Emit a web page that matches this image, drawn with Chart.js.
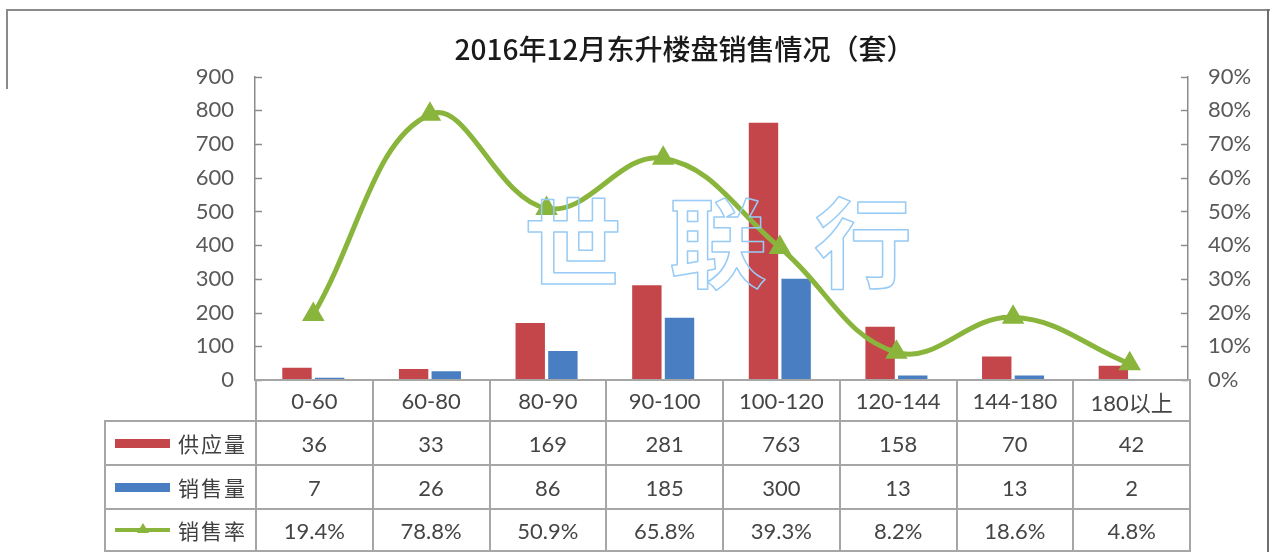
<!DOCTYPE html>
<html>
<head>
<meta charset="utf-8">
<script src="https://cdn.jsdelivr.net/npm/chart.js@4.4.1/dist/chart.umd.min.js"></script>
<style>
  html, body { margin: 0; padding: 0; background: #fff; }
  #wrap { position: relative; width: 1277px; height: 552px; background: #fff; overflow: hidden; }
  #c { position: absolute; left: 0; top: 0; }
  .frame-top { position: absolute; left: 6px; top: 9px; width: 1264px; height: 2px; background: #8a8a8a; }
  .frame-right { position: absolute; left: 1267px; top: 9px; width: 2px; height: 543px; background: #6e6e6e; }
  .frame-left { position: absolute; left: 6px; top: 9px; width: 2px; height: 80px; background: #8a8a8a; }
  #tbl { position: absolute; left: 104px; top: 379px; border-collapse: collapse; table-layout: fixed;
         font-family: Lato, "Noto Sans CJK SC", sans-serif; font-size: 22px; color: #454545; }
  #tbl td { border: 2px solid #a6a6a6; text-align: center; padding: 0; white-space: nowrap; }
  #tbl td.blank { border-top: none; border-left: none; }
  #tbl td.lab { text-align: left; }
  .lab-in { display: flex; align-items: center; }
  .sw { display: inline-block; width: 55px; height: 9px; margin-left: 9px; margin-right: 8px; position: relative; }
  .sw.line { height: 4px; }
  .sw.line::after { content: ""; position: absolute; left: 22px; top: -5px; width: 0; height: 0;
                    border-left: 6px solid transparent; border-right: 6px solid transparent; border-bottom: 10px solid #8ab53c; }
  .lab-txt { font-family: "Noto Sans CJK SC", sans-serif; font-size: 21px; letter-spacing: 2px; color: #404040; }
</style>
</head>
<body>
<div id="wrap">
  <div class="frame-top"></div>
  <div class="frame-left"></div>
  <div class="frame-right"></div>
  <canvas id="c" width="1277" height="552"></canvas>
  <table id="tbl"></table>
</div>
<script>
// chart data
const categories = ['0-60', '60-80', '80-90', '90-100', '100-120', '120-144', '144-180', '180以上'];
const supply = [36, 33, 169, 281, 763, 158, 70, 42];      // 供应量
const sold = [7, 26, 86, 185, 300, 13, 13, 2];            // 销售量
const rate = [19.4, 78.8, 50.9, 65.8, 39.3, 8.2, 18.6, 4.8]; // 销售率 (%)
const seriesNames = ['供应量', '销售量', '销售率'];
const titleText = '2016年12月东升楼盘销售情况（套）';
const watermark = ['世', '联', '行'];

const RED = '#c4464a';
const BLUE = '#4a7ec2';
const GREEN = '#8ab53c';
const AXIS = '#8c8c8c';
const TICKTXT = '#595959';

// build the data table under the plot
const tbl = document.getElementById('tbl');
let html = '<colgroup><col style="width:151px">';
categories.forEach(() => { html += '<col style="width:116.75px">'; });
html += '</colgroup>';
html += '<tr style="height:41px"><td class="blank"></td>' + categories.map(c => '<td>' + c + '</td>').join('') + '</tr>';
const rows = [
  { name: seriesNames[0], vals: supply.map(String), sw: '<span class="sw" style="background:' + RED + '"></span>', h: 44 },
  { name: seriesNames[1], vals: sold.map(String), sw: '<span class="sw" style="background:' + BLUE + '"></span>', h: 44 },
  { name: seriesNames[2], vals: rate.map(v => v.toFixed(1) + '%'), sw: '<span class="sw line" style="background:' + GREEN + '"></span>', h: 42 }
];
rows.forEach(r => {
  html += '<tr style="height:' + r.h + 'px"><td class="lab"><div class="lab-in">' + r.sw + '<span class="lab-txt">' + r.name + '</span></div></td>';
  html += r.vals.map(v => '<td>' + v + '</td>').join('') + '</tr>';
});
tbl.innerHTML = html;

// tick marks pointing into the plot, like the original
const inwardTicks = {
  id: 'inwardTicks',
  afterDraw(chart) {
    const ctx = chart.ctx;
    ctx.save();
    ctx.strokeStyle = AXIS;
    ctx.lineWidth = 1.5;
    ['y', 'y1'].forEach(id => {
      const s = chart.scales[id];
      s.ticks.forEach((t, i) => {
        const y = Math.round(s.getPixelForTick(i)) + 0.5;
        const x0 = id === 'y' ? s.right : s.left;
        const x1 = id === 'y' ? x0 + 7 : x0 - 7;
        ctx.beginPath();
        ctx.moveTo(x0, y);
        ctx.lineTo(x1, y);
        ctx.stroke();
      });
    });
    ctx.restore();
  }
};

// outlined watermark text
const watermarkPlugin = {
  id: 'watermark',
  afterDraw(chart) {
    const ctx = chart.ctx;
    ctx.save();
    ctx.font = 'bold 98px "Noto Sans CJK SC"';
    ctx.textAlign = 'center';
    ctx.textBaseline = 'middle';
    ctx.strokeStyle = '#98cbf5';
    ctx.lineWidth = 1.5;
    ctx.lineJoin = 'round';
    watermark.forEach((ch, i) => {
      ctx.strokeText(ch, 573 + i * 145, 243);
    });
    ctx.restore();
  }
};

const ctx = document.getElementById('c').getContext('2d');
const myChart = new Chart(ctx, {
  type: 'bar',
  data: {
    labels: categories,
    datasets: [
      {
        type: 'line',
        label: seriesNames[2],
        data: rate,
        yAxisID: 'y1',
        borderColor: GREEN,
        backgroundColor: GREEN,
        borderWidth: 5,
        tension: 0.4,
        pointStyle: 'triangle',
        pointRadius: 13,
        pointBorderWidth: 0,
        pointBackgroundColor: GREEN,
        fill: false,
        clip: false,
        order: 0
      },
      {
        label: seriesNames[0],
        data: supply,
        yAxisID: 'y',
        backgroundColor: RED,
        categoryPercentage: 0.56,
        barPercentage: 0.9,
        order: 1
      },
      {
        label: seriesNames[1],
        data: sold,
        yAxisID: 'y',
        backgroundColor: BLUE,
        categoryPercentage: 0.56,
        barPercentage: 0.9,
        order: 2
      }
    ]
  },
  options: {
    responsive: false,
    animation: false,
    layout: { padding: { left: 92, right: 0, top: 0, bottom: 172 } },
    plugins: {
      legend: { display: false },
      tooltip: { enabled: false },
      title: {
        display: true,
        text: titleText,
        color: '#1a1a1a',
        font: { family: '"Noto Sans CJK SC", sans-serif', size: 28, weight: '500', lineHeight: 1.2 },
        padding: { top: 33, bottom: 10 }
      }
    },
    scales: {
      x: { display: false, offset: true },
      y: {
        position: 'left',
        min: 0,
        max: 900,
        ticks: { stepSize: 100, padding: 21, color: TICKTXT, font: { family: 'Lato', size: 22 } },
        grid: { drawOnChartArea: false, drawTicks: false },
        border: { display: true, color: AXIS, width: 1.5 },
        afterFit(s) { s.width = 163; }
      },
      y1: {
        position: 'right',
        min: 0,
        max: 90,
        ticks: { stepSize: 10, padding: 20, color: TICKTXT, font: { family: 'Lato', size: 22 }, callback: v => v + '%' },
        grid: { drawOnChartArea: false, drawTicks: false },
        border: { display: true, color: AXIS, width: 1.5 },
        afterFit(s) { s.width = 89; }
      }
    }
  },
  plugins: [inwardTicks, watermarkPlugin]
});
</script>
</body>
</html>
